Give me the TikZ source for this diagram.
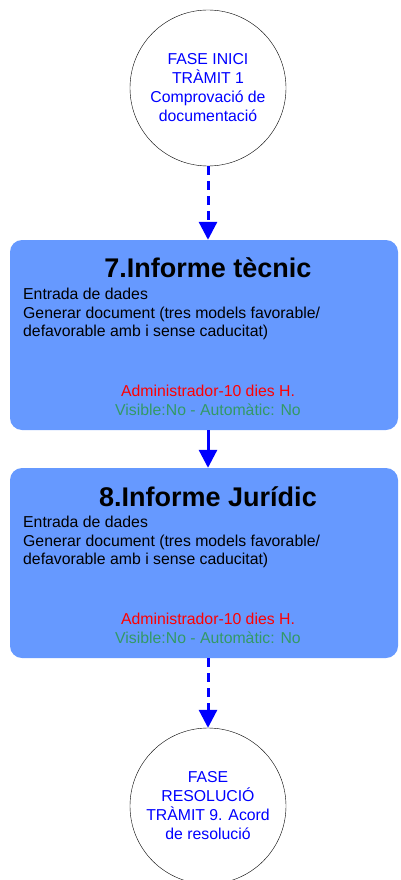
\documentclass[tikz,border=0pt]{standalone}
\usepackage{fontspec}
\setmainfont{Liberation Sans}
\usetikzlibrary{arrows.meta}
\definecolor{boxblue}{RGB}{102,153,255}
\definecolor{linkblue}{RGB}{0,0,255}
\definecolor{roleRed}{RGB}{255,0,0}
\definecolor{flagGreen}{RGB}{51,153,102}
\tikzstyle{phase}=[circle, draw, thin, fill=white, minimum size=156pt, inner sep=0pt, align=center, text=linkblue, font=\fontsize{15.8}{19}\selectfont]
\tikzstyle{task}=[rounded corners=12pt, fill=boxblue, minimum width=388pt, minimum height=190pt, inner sep=0pt]
\tikzstyle{title}=[font=\fontsize{27}{30}\selectfont\bfseries]
\tikzstyle{detail}=[anchor=north west, align=left, inner sep=0pt, font=\fontsize{15.8}{18.5}\selectfont]
\tikzstyle{status}=[align=center, inner sep=0pt, font=\fontsize{15.8}{19}\selectfont]
\tikzstyle{flow}=[linkblue, line width=3pt, -{Triangle[width=18pt,length=18pt]}]
\tikzstyle{maybe flow}=[flow, dash pattern=on 9pt off 6pt]

\begin{document}
\begin{tikzpicture}[x=1pt, y=-1pt]
      \useasboundingbox (0, 0) rectangle (400, 880);
      \node[phase] (inici) at (208, 88) {FASE INICI\\TRÀMIT 1\\Comprovació de\\documentació};
      \node[task] (tecnic) at (204, 335) {};
      \node[title] (tecnic title) at (208, 268) {7.Informe tècnic};
      \node[detail] (tecnic body) at (23, 288) {Entrada de dades\\Generar document (tres models favorable/\\defavorable amb i sense caducitat)};
      \node[status] (tecnic who) at (208, 400) {\textcolor{roleRed}{Administrador-10 dies H.}\\\textcolor{flagGreen}{Visible:No - Automàtic: No}};
      \node[task] (juridic) at (204, 563) {};
      \node[title] (juridic title) at (208, 497) {8.Informe Jurídic};
      \node[detail] (juridic body) at (23, 516) {Entrada de dades\\Generar document (tres models favorable/\\defavorable amb i sense caducitat)};
      \node[status] (juridic who) at (208, 628) {\textcolor{roleRed}{Administrador-10 dies H.}\\\textcolor{flagGreen}{Visible:No - Automàtic: No}};
      \node[phase] (resolucio) at (208, 806) {FASE\\RESOLUCIÓ\\TRÀMIT 9. Acord\\de resolució};
      \draw[maybe flow] (inici.south) -- (inici.south |- tecnic.north);
      \draw[flow] (inici.south |- tecnic.south) -- (inici.south |- juridic.north);
      \draw[maybe flow] (inici.south |- juridic.south) -- (resolucio.north);
    \end{tikzpicture}
\end{document}
